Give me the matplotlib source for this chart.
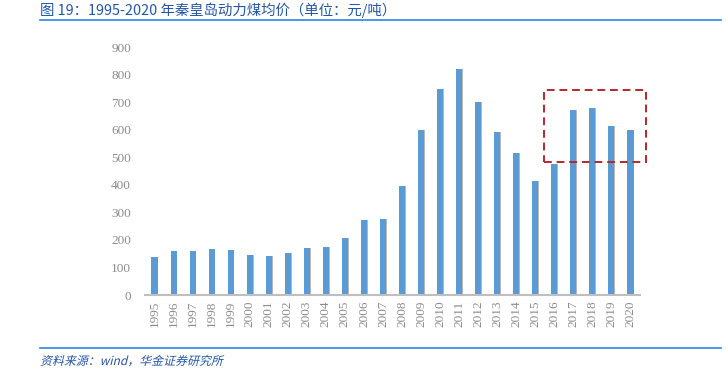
import matplotlib
matplotlib.use("Agg")
import matplotlib.pyplot as plt
from matplotlib.patches import Rectangle, PathPatch
from matplotlib.lines import Line2D
from matplotlib.textpath import TextPath
from matplotlib.font_manager import FontProperties
from matplotlib.transforms import Affine2D

# datos: precio medio del carbon termico en Qinhuangdao (yuan/t)
years = [str(y) for y in range(1995, 2021)]
prices = [139, 160, 160, 167, 163, 145, 142, 153, 170, 174, 207, 272, 275, 396,
          598, 746, 819, 701, 590, 517, 412, 474, 673, 678, 613, 598]
y_ticks = [0, 100, 200, 300, 400, 500, 600, 700, 800, 900]

# recuadro resaltado (en coordenadas de datos)
box_x = [20.48, 25.8]
box_y = [482, 744]

title_txt = "图 19：1995-2020 年秦皇岛动力煤均价（单位：元/吨）"
source_txt = "资料来源：wind，华金证券研究所"

plt.rcParams["font.family"] = ["Liberation Serif"]
cjk = ["Noto Sans CJK SC", "DejaVu Sans"]
blue = "#2a8ad8"
gray = "#8c8c8c"

fig = plt.figure(figsize=(7.28, 3.77), dpi=100)
ax = fig.add_axes([145 / 728, (377 - 295) / 377, (640 - 145) / 728, (295 - 47) / 377])

x = list(range(len(years)))
# sombra gris a la derecha de cada barra
ax.bar([i + 0.04 for i in x], prices, width=0.32, color="#b8b8b8", zorder=2)
ax.bar(x, prices, width=0.32, color="#5b9bd5", zorder=3)

ax.set_xlim(-0.5, len(years) - 0.5)
ax.set_ylim(0, 900)
ax.set_yticks(y_ticks)
ax.set_xticks(x)
ax.set_xticklabels(years, rotation=90)
ax.tick_params(axis="both", length=0, labelsize=9.5, labelcolor=gray)
ax.tick_params(axis="y", pad=10)
ax.tick_params(axis="x", pad=4)

for s in ["top", "right", "left"]:
    ax.spines[s].set_visible(False)
ax.spines["bottom"].set_color("#bfbfbf")
ax.spines["bottom"].set_linewidth(1.5)
ax.spines["bottom"].set_zorder(4)

rect = Rectangle((box_x[0], box_y[0]), box_x[1] - box_x[0], box_y[1] - box_y[0],
                 fill=False, edgecolor="#b5272d", linestyle=(0, (4, 2.5)),
                 linewidth=1.4, clip_on=False, zorder=5)
ax.add_patch(rect)

# titulo
fig.text(40 / 728, 1 - 10 / 377, title_txt, family=cjk, fontsize=10.4,
         color="#2456a4", va="center", ha="left")
fig.add_artist(Line2D([40 / 728, 721 / 728], [1 - 20 / 377] * 2, color=blue, lw=1.2))
fig.add_artist(Line2D([40 / 728, 721 / 728], [1 - 348 / 377] * 2, color=blue, lw=1.2))

# fuente en cursiva (la fuente CJK no tiene cursiva: se inclina el trazo)
tp = TextPath((0, 0), source_txt, size=8.6, prop=FontProperties(family="Noto Sans CJK SC"))
tr = Affine2D().skew_deg(14, 0).scale(1 / 72).translate(40 / 100, (377 - 365) / 100) + fig.dpi_scale_trans
fig.add_artist(PathPatch(tp, transform=tr, facecolor="#2456a4", edgecolor="none"))

fig.savefig("out.png", dpi=100)
